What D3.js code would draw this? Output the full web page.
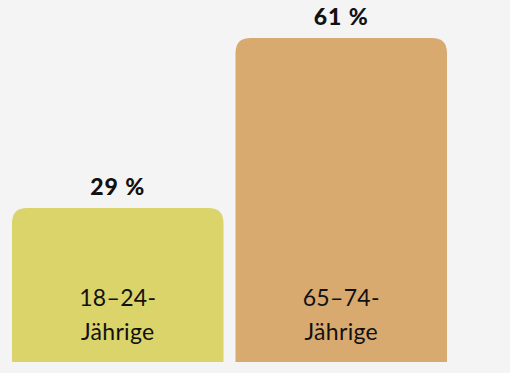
<!DOCTYPE html>
<html>
<head>
<meta charset="utf-8">
<script src="https://cdn.jsdelivr.net/npm/d3@7/dist/d3.min.js"></script>
<style>
  html, body { margin: 0; padding: 0; background: #f4f4f4; }
  svg { display: block; }
  .val { font-family: Lato, "DejaVu Sans", sans-serif; font-weight: 900; font-size: 23px; letter-spacing: 1px; fill: #111; }
  .cat { font-family: Lato, "DejaVu Sans", sans-serif; font-weight: 400; font-size: 23px; letter-spacing: 0.3px; fill: #111; }
</style>
</head>
<body>
<div id="chart"></div>
<script>
// Daten
const categories = ['18–24-Jährige', '65–74-Jährige'];
const labelLines = [['18–24-', 'Jährige'], ['65–74-', 'Jährige']];
const values = [29, 61];
const colors = ['#dbd46a', '#d9aa6f'];

(function () {
  const W = 510, H = 373;
  const base = 362, r = 15;

  const svg = d3.select('#chart').append('svg').attr('width', W).attr('height', H);

  const x = d3.scaleBand().domain(categories).range([12, 447]).paddingInner(0.0537);
  const y = d3.scaleLinear().domain([0, 61]).range([base, 38]);

  // Balken mit abgerundeten oberen Ecken
  function barPath(x0, y0, w, h) {
    return `M${x0},${y0 + h}V${y0 + r}Q${x0},${y0} ${x0 + r},${y0}` +
      `H${x0 + w - r}Q${x0 + w},${y0} ${x0 + w},${y0 + r}V${y0 + h}Z`;
  }

  const g = svg.selectAll('g.bar').data(categories).enter().append('g').attr('class', 'bar');

  g.append('path')
    .attr('d', (d, i) => barPath(x(d), y(values[i]), x.bandwidth(), base - y(values[i])))
    .attr('fill', (d, i) => colors[i]);

  g.append('text')
    .attr('class', 'val')
    .attr('x', d => x(d) + x.bandwidth() / 2)
    .attr('y', (d, i) => y(values[i]) - 13)
    .attr('text-anchor', 'middle')
    .text((d, i) => values[i] + ' %');

  g.each(function (d, i) {
    const t = d3.select(this).append('text')
      .attr('class', 'cat')
      .attr('text-anchor', 'middle');
    labelLines[i].forEach((ln, j) => {
      t.append('tspan')
        .attr('x', x(d) + x.bandwidth() / 2)
        .attr('y', base - 56 + j * 34)
        .text(ln);
    });
  });
})();
</script>
</body>
</html>
